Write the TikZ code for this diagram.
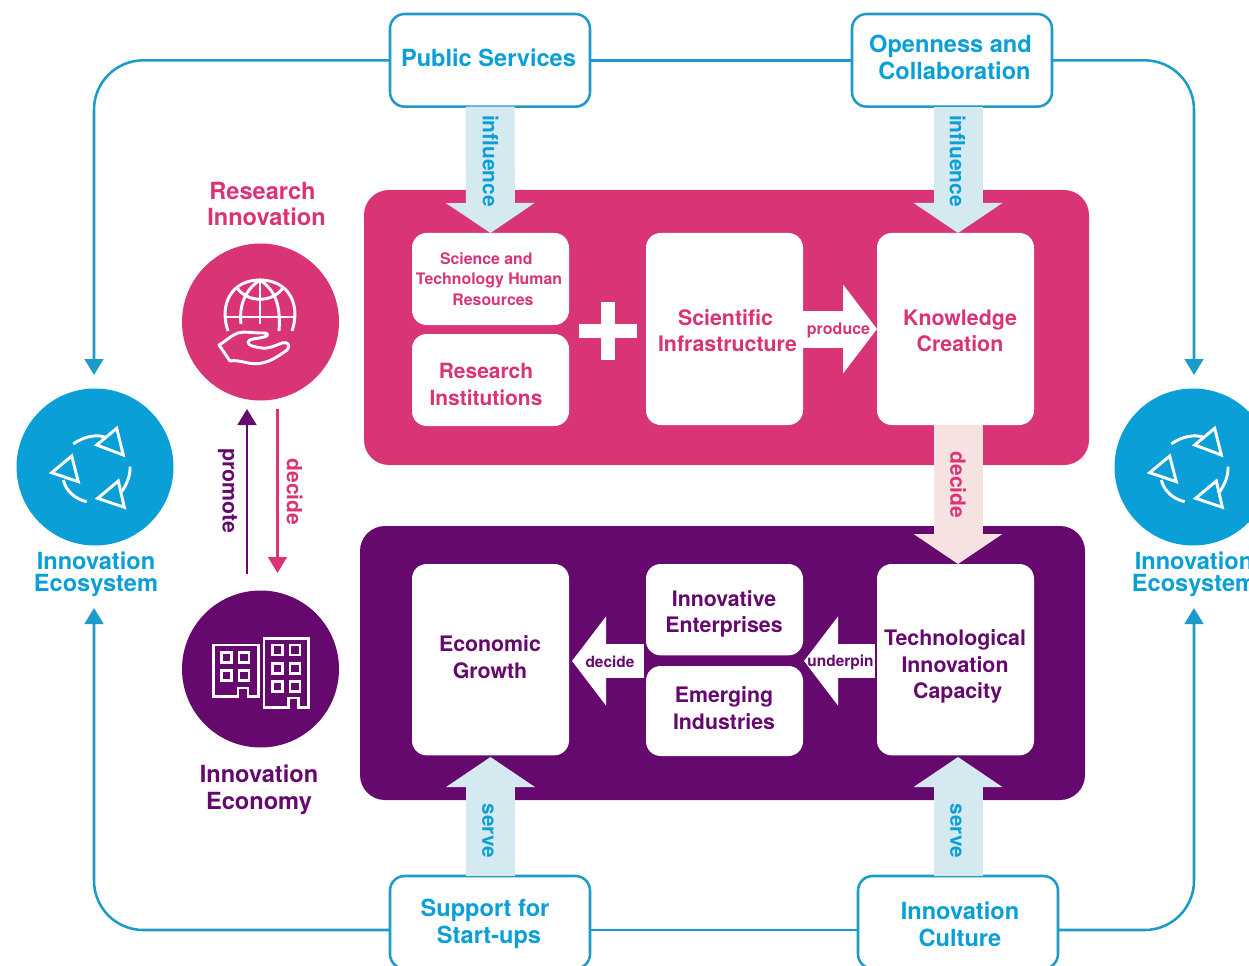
\documentclass[tikz,border=0pt]{standalone}
\usepackage{fontspec}
\setmainfont{TeX Gyre Heros}
\usetikzlibrary{arrows.meta}
\definecolor{cblue}{HTML}{0A9FD6}
\definecolor{cline}{HTML}{1C9BCB}
\definecolor{cpink}{HTML}{D93476}
\definecolor{cpurple}{HTML}{66096F}
\definecolor{cpale}{HTML}{D5E9F1}
\definecolor{crose}{HTML}{F6E2E0}
\newcommand{\fs}[2]{\fontsize{#1}{#2}\selectfont\bfseries}
\newcommand{\off}[1]{\hspace*{#1pt}}
\tikzset{
  x=0.75pt,y=-0.75pt,
  panel/.style={rounded corners=18.75pt,inner sep=0,outer sep=0,anchor=north west},
  whitebox/.style={fill=white,rounded corners=11pt,inner sep=0,outer sep=0,anchor=north west},
  topbox/.style={draw=cline,line width=1.9pt,fill=white,rounded corners=11pt,inner sep=0,outer sep=0,anchor=north west,minimum width=150pt,minimum height=69.5pt},
  disc/.style={circle,inner sep=0,outer sep=0,minimum size=117.75pt},
  lab/.style={inner sep=0,outer sep=0,align=center},
  flow/.style={draw=cline,line width=1.9pt,rounded corners=37pt,-{Triangle[length=12pt,width=14pt]}},
  flowbar/.style={draw=cline,line width=1.9pt},
  blockv/.style={line width=36.75pt,-{Triangle[length=22.5pt,width=65.5pt]}},
  blockh/.style={line width=26pt,-{Triangle[length=25.5pt,width=65.5pt]},draw=white},
  thin arrow/.style={line width=2.1pt,-{Triangle[length=12pt,width=14pt]}},
  icon/.style={draw=white,line width=2.2pt,fill=none},
}
\newcommand{\cycleicon}[1]{%
\begin{scope}[shift={(#1)},icon,line width=2.2pt,line join=miter]
\draw (21.7,-38.7) -- (1.7,-22) -- (28.3,-12) -- cycle;
\draw (-23.3,-11) -- (-43.3,5.7) -- (-16.7,14.7) -- cycle;
\draw (23.3,14) -- (2.7,31.3) -- (29.3,40.3) -- cycle;
\draw (-21.7,-23) .. controls (-12,-30) and (0,-33) .. (10,-30);
\draw (-31.7,13) .. controls (-29,24) and (-20,32) .. (-8.3,34.7);
\draw (35,-0.3) .. controls (35.5,8) and (32,17) .. (26.7,24.7);
\end{scope}}
\begin{document}
\begin{tikzpicture}
\path[use as bounding box,clip] (0,0) rectangle (1249,966);
% panels
\node[panel,fill=cpink,minimum width=543.75pt,minimum height=206.25pt] (pinkpanel) at (364,190) {};
\node[panel,fill=cpurple,minimum width=543.75pt,minimum height=205.5pt] (purplepanel) at (360,526) {};
% top and bottom boxes
\node[topbox] (ps) at (390,14) {};
\node[topbox] (oc) at (852,14) {};
\node[topbox] (su) at (390,876) {};
\node[topbox] (ic) at (858,876) {};
% white boxes
\node[whitebox,minimum width=117.75pt,minimum height=69pt] (sthr) at (412,233) {};
\node[whitebox,minimum width=117.75pt,minimum height=69pt] (ri) at (412,334) {};
\node[whitebox,minimum width=117.75pt,minimum height=144pt] (si) at (646,233) {};
\node[whitebox,minimum width=117.75pt,minimum height=144pt] (kc) at (877,233) {};
\node[whitebox,minimum width=117.75pt,minimum height=143.5pt] (eg) at (412,564) {};
\node[whitebox,minimum width=117.75pt,minimum height=68.5pt] (ie) at (646,564) {};
\node[whitebox,minimum width=117.75pt,minimum height=67.5pt] (ei) at (646,666) {};
\node[whitebox,minimum width=117.75pt,minimum height=143.5pt] (tc) at (877,564) {};
% discs
\node[disc,fill=cpink] (rc) at (260.5,322) {};
\node[disc,fill=cpurple] (ec) at (260.5,669) {};
\node[disc,fill=cblue] (el) at (95,467) {};
\node[disc,fill=cblue] (er) at (1193,467) {};
% free ends
\coordinate (oct) at (958,107);
\coordinate (kct) at (958,233);
\coordinate (kcb) at (958,425);
\coordinate (tct) at (958,564);
\coordinate (tcb) at (958,757);
\coordinate (ict) at (958,876);
\coordinate (sut) at (490.5,876);
\coordinate (egb) at (490.5,757);
\coordinate (lowy) at (0,930);
\coordinate (elt) at (94,375);
\coordinate (elb) at (94,608);
\coordinate (ert) at (1194,375);
\coordinate (erb) at (1194,608);
% blue flow lines
\draw[flow] (ps.west) -| (elt);
\draw[flow] (su.west |- lowy) -| (elb);
\draw[flow] (oc.east) -| (ert);
\draw[flow] (ic.east |- lowy) -| (erb);
\draw[flowbar] (ps.east) -- (oc.west);
\draw[flowbar] (su.east |- lowy) -- (ic.west |- lowy);
% block arrows
\draw[blockv,draw=cpale] (ps.south) -- (sthr.north);
\draw[blockv,draw=cpale] (oct) -- (kct);
\draw[blockv,draw=crose] (kcb) -- (tct);
\draw[blockv,draw=cpale] (sut) -- (egb);
\draw[blockv,draw=cpale] (ict) -- (tcb);
\coordinate (siE) at (803,329); \coordinate (kcW) at (877,329);
\coordinate (ieW) at (644,661); \coordinate (egE) at (572,661);
\coordinate (tcW) at (875,661); \coordinate (ieE) at (804,661);
\draw[blockh,line width=27.75pt] (siE) -- (kcW);
\draw[blockh] (ieW) -- (egE);
\draw[blockh] (tcW) -- (ieE);
% plus
\node[fill=white,minimum width=43.5pt,minimum height=10.5pt,inner sep=0] (plush) at (608,331) {};
\node[fill=white,minimum width=11pt,minimum height=43.5pt,inner sep=0] (plusv) at (608,331) {};
% thin arrows
\coordinate (pa) at (247,574); \coordinate (pb) at (247,409);
\coordinate (da) at (277.5,409); \coordinate (db) at (277.5,573);
\draw[thin arrow,draw=cpurple,fill=cpurple] (pa) -- (pb);
\draw[thin arrow,draw=cpink,fill=cpink] (da) -- (db);
% labels
\node[lab,text=cblue,font=\fs{17.7}{20}] (tps) at (488.5,58) {Public Services};
\node[lab,text=cblue,font=\fs{17.7}{20}] (toc) at (950.5,57.5) {Openness and\\\off{6}Collaboration};
\node[lab,text=cblue,font=\fs{17.7}{20}] (tsu) at (485,923.5) {Support for\\\off{6}Start-ups};
\node[lab,text=cblue,font=\fs{17.7}{20}] (tic) at (960,924.5) {Innovation\\Culture};
\node[lab,text=cpink,font=\fs{17.7}{20}] (trc) at (262.5,204) {Research\\\off{6}Innovation};
\node[lab,text=cpurple,font=\fs{17.7}{20}] (tec) at (259,790) {Innovation\\Economy};
\node[lab,text=cblue,font=\fs{17.7}{16.5}] (tel) at (96,574) {Innovation\\Ecosystem};
\node[lab,text=cblue,font=\fs{17.7}{16.5}] (ter) at (1194,574) {Innovation\\Ecosystem};
\node[lab,text=cpink,font=\fs{11.9}{15.5}] (tst) at (489,279) {\off{-4}Science and\\Technology Human\\\off{6}Resources};
\node[lab,text=cpink,font=\fs{15.7}{20}] (tri) at (486,384.5) {Research\\Institutions};
\node[lab,text=cpink,font=\fs{16}{19.5}] (tsi) at (727.5,331) {\off{-3}Scientific\\Infrastructure};
\node[lab,text=cpink,font=\fs{16}{19.5}] (tkc) at (960,331) {Knowledge\\Creation};
\node[lab,text=cpink,font=\fs{12}{14}] (tpr) at (838.5,330) {produce};
\node[lab,text=cpurple,font=\fs{16}{20}] (teg) at (490,657.5) {Economic\\Growth};
\node[lab,text=cpurple,font=\fs{16}{20}] (tie) at (724,614) {Innovative\\Enterprises};
\node[lab,text=cpurple,font=\fs{16}{20}] (tei) at (724,708) {Emerging\\Industries};
\node[lab,text=cpurple,font=\fs{16}{19.7}] (ttc) at (955,666.5) {Technological\\Innovation\\\off{4}Capacity};
\node[lab,text=cpurple,font=\fs{11.6}{14}] (tde) at (610,662) {decide};
\node[lab,text=cpurple,font=\fs{11.6}{14}] (tun) at (840.5,662) {underpin};
\node[lab,text=cblue,font=\fs{15.7}{18},rotate=-90] (tin1) at (490.5,161) {influence};
\node[lab,text=cblue,font=\fs{15.7}{18},rotate=-90] (tin2) at (957.5,161) {influence};
\node[lab,text=cpink,font=\fs{15.8}{18},rotate=-90] (tdk) at (958,485) {decide};
\node[lab,text=cblue,font=\fs{15.5}{18},rotate=-90] (tse1) at (488,831) {serve};
\node[lab,text=cblue,font=\fs{15.5}{18},rotate=-90] (tse2) at (956,831) {serve};
\node[lab,text=cpurple,font=\fs{16}{18},rotate=-90] (tpm) at (227.5,491) {promote};
\node[lab,text=cpink,font=\fs{15.8}{18},rotate=-90] (tdc) at (294.5,492) {decide};
% globe and hand icon
\begin{scope}[icon]
\draw (228,331) .. controls (219,305) and (231,280) .. (260,280) .. controls (289,280) and (301,305) .. (292,331);
\draw (224,317) -- (296,317);
\draw (260,280) -- (260,324);
\draw (241,324) .. controls (239,305) and (245,290) .. (260,280) .. controls (275,290) and (281,305) .. (279,331);
\draw (237,288) .. controls (248,303) and (272,303) .. (283,288);
\draw[line join=round] (219,345) -- (230,361) .. controls (240,359) and (250,366) .. (262,363) .. controls (272,361) and (280,355) .. (287,350) .. controls (291,346) and (288,341) .. (282,343) .. controls (276,345) and (270,349) .. (262,348) .. controls (255,347) and (248,346) .. (248,342) .. controls (249,338) and (258,339) .. (264,337) .. controls (270,336) and (268,332) .. (262,333) .. controls (250,333) and (245,331) .. (238,333) .. controls (230,336) and (225,342) .. (219,345) -- cycle;
\end{scope}
% buildings icon
\begin{scope}[icon,line width=2.2pt]
\draw (248,696.7) -- (258.3,696.7) -- (258.3,645) -- (213.3,645) -- (213.3,696.7) -- (238,696.7) -- (238,688) -- (248,688) -- cycle;
\draw (298.3,707.3) -- (308.3,707.3) -- (308.3,638.3) -- (264,638.3) -- (264,707.3) -- (288.3,707.3) -- (288.3,698) -- (298.3,698) -- cycle;
\foreach \a/\b in {226.7/657.3,244/657.3,226.7/675.7,244/675.7,277.3/650,295/650,277.3/668.3,295/668.3,277.3/686.7,295/686.7}
  \draw (\a-5,\b-5) rectangle (\a+5,\b+5);
\end{scope}
\cycleicon{el.center}
\cycleicon{er.center}
\end{tikzpicture}
\end{document}
